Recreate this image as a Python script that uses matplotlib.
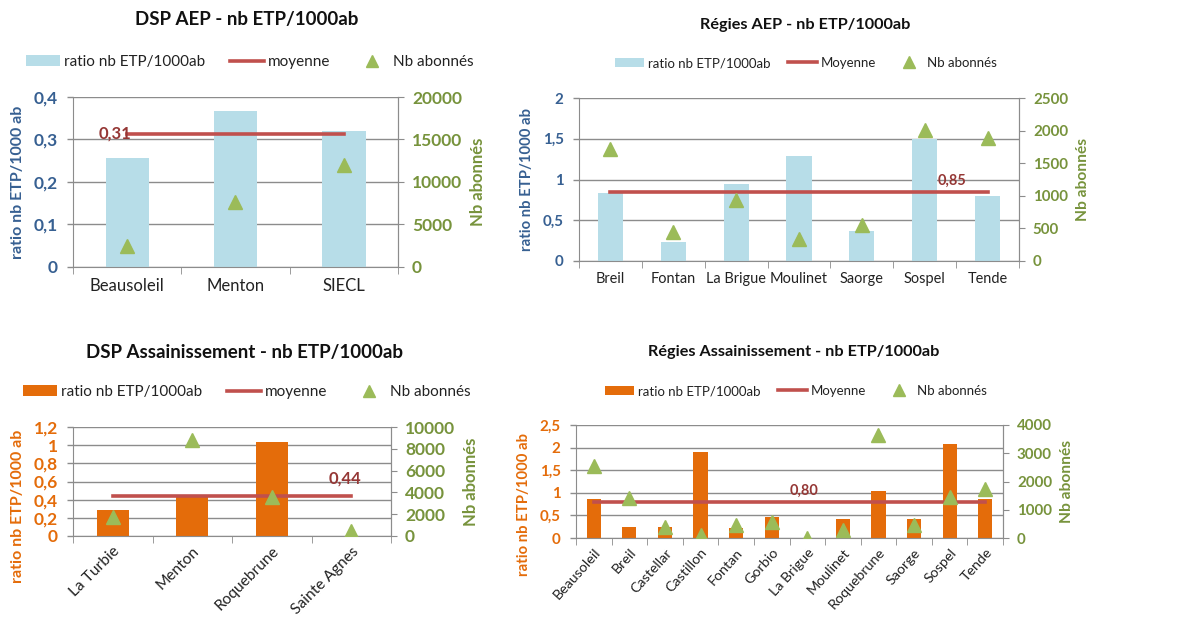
import matplotlib
matplotlib.use("Agg")
import matplotlib.pyplot as plt
from matplotlib.lines import Line2D
from matplotlib.patches import Patch
from matplotlib.ticker import FuncFormatter, MultipleLocator

plt.rcParams["font.family"] = ["Lato", "DejaVu Sans"]

# --- data -------------------------------------------------------------
dsp_aep_communes = ["Beausoleil", "Menton", "SIECL"]
dsp_aep_ratio = [0.257, 0.367, 0.32]
dsp_aep_abonnes = [2500, 7700, 12000]
dsp_aep_mean = 0.313

reg_aep_communes = ["Breil", "Fontan", "La Brigue", "Moulinet", "Saorge", "Sospel", "Tende"]
reg_aep_ratio = [0.84, 0.23, 0.94, 1.29, 0.37, 1.50, 0.80]
reg_aep_abonnes = [1720, 440, 930, 330, 550, 2010, 1880]
reg_aep_mean = 0.85

dsp_ass_communes = ["La Turbie", "Menton", "Roquebrune", "Sainte Agnes"]
dsp_ass_ratio = [0.29, 0.44, 1.04, 0.0]
dsp_ass_abonnes = [1700, 8800, 3600, 500]
dsp_ass_mean = 0.44

reg_ass_communes = ["Beausoleil", "Breil", "Castellar", "Castillon", "Fontan", "Gorbio",
                    "La Brigue", "Moulinet", "Roquebrune", "Saorge", "Sospel", "Tende"]
reg_ass_ratio = [0.86, 0.25, 0.25, 1.90, 0.23, 0.47, 0.0, 0.43, 1.04, 0.43, 2.08, 0.86]
reg_ass_abonnes = [2550, 1400, 400, 100, 450, 580, 0, 300, 3650, 450, 1450, 1750]
reg_ass_mean = 0.80

BLUE_BAR = "#B7DDE8"
ORANGE_BAR = "#E46C0A"
RED_LINE = "#C0504D"
GREEN = "#9BBB59"
GREEN_TXT = "#77933C"
BLUE_TXT = "#376092"
GRID = "#8C8C8C"

W, H = 1182, 619


def _comma(v, _):
    return f"{v:g}".replace(".", ",")


def _panel(rect, title, title_xy, legend_xy, communes, ratio, abonnes, mean,
           mean_label, bar_color, left_color, ylim, ystep, rlim, rstep,
           mean_word, rotate, scale, ylabel_y):
    left, bottom, right, top = rect
    ax = fig.add_axes([left / W, 1 - bottom / H, (right - left) / W, (bottom - top) / H])
    x = list(range(len(communes)))
    ax.bar(x, ratio, width=0.4, color=bar_color, zorder=2)
    ax.plot([x[0], x[-1]], [mean, mean], color=RED_LINE, linewidth=2.6, zorder=4)
    ax.set_xlim(-0.5, len(communes) - 0.5)
    ax.set_ylim(*ylim)
    ax.yaxis.set_major_locator(MultipleLocator(ystep))
    ax.yaxis.set_major_formatter(FuncFormatter(_comma))
    ax.grid(axis="y", color=GRID, linewidth=1.0, zorder=0)
    ax.set_axisbelow(True)
    ax.spines["top"].set_visible(False)
    for side in ("left", "right", "bottom"):
        ax.spines[side].set_color(GRID)
    ax.tick_params(axis="y", colors=left_color, labelsize=12.5 * scale, length=4, width=1, pad=7)
    for lbl in ax.get_yticklabels():
        lbl.set_fontweight("bold")
    ax.tick_params(axis="y", color=GRID)
    ax.set_xticks(x)
    ax.set_xticks([i - 0.5 for i in range(len(communes) + 1)], minor=True)
    ax.tick_params(axis="x", which="major", length=0, pad=6 if rotate else 8)
    ax.tick_params(axis="x", which="minor", length=5, color=GRID)
    if rotate:
        ax.set_xticklabels(communes, rotation=rotate, ha="right", rotation_mode="anchor",
                           fontsize=11.2 * max(scale, 0.92), color="#222222")
    else:
        ax.set_xticklabels(communes, fontsize=12 * scale, color="#222222")
    ax.set_ylabel("ratio nb ETP/1000 ab", color=left_color, fontweight="bold",
                  fontsize=11.5 * max(scale, 0.93), labelpad=6)
    ax.yaxis.label.set_y(ylabel_y)

    ax2 = ax.twinx()
    ax2.plot(x, abonnes, linestyle="none", marker="^", markersize=10, color=GREEN, zorder=5)
    ax2.set_ylim(*rlim)
    ax2.yaxis.set_major_locator(MultipleLocator(rstep))
    ax2.tick_params(axis="y", colors=GREEN_TXT, labelsize=12.5 * scale, length=4, pad=6)
    ax2.tick_params(axis="y", color=GRID)
    for lbl in ax2.get_yticklabels():
        lbl.set_fontweight("bold")
    for side in ("top", "left", "bottom"):
        ax2.spines[side].set_visible(False)
    ax2.spines["right"].set_color(GRID)
    ax2.set_ylabel("Nb abonnés", color=GREEN_TXT, fontweight="bold",
                   fontsize=12 * max(scale, 0.93), labelpad=6)
    ax2.set_zorder(ax.get_zorder() + 1)

    lx, ha, dy = mean_label
    ax.annotate(f"{mean:.2f}".replace(".", ","), xy=(lx, mean),
                xytext=(0 if ha == "center" else 3, dy), textcoords="offset points",
                ha=ha, va="bottom" if dy > 0 else "center",
                color="#953735", fontweight="bold", fontsize=12 * scale, zorder=6)

    fig.text(title_xy[0] / W, 1 - title_xy[1] / H, title, ha="center", va="center",
             fontsize=13.5 * scale, fontweight="bold", color="#111111")
    handles = [
        Patch(facecolor=bar_color, edgecolor="none"),
        Line2D([], [], color=RED_LINE, linewidth=2.6),
        Line2D([], [], linestyle="none", marker="^", markersize=9, color=GREEN),
    ]
    fig.legend(handles, ["ratio nb ETP/1000ab", mean_word, "Nb abonnés"], ncol=3,
               loc="center", bbox_to_anchor=(legend_xy[0] / W, 1 - legend_xy[1] / H),
               frameon=False, fontsize=11 * scale, handlelength=2.2, handletextpad=0.3,
               columnspacing=1.6 if scale == 1.0 else 1.3, labelcolor="#222222")
    return ax, ax2


fig = plt.figure(figsize=(W / 100, H / 100), dpi=100)

_panel((73, 267, 398, 97), "DSP AEP - nb ETP/1000ab", (247, 20), (250, 62),
       dsp_aep_communes, dsp_aep_ratio, dsp_aep_abonnes, dsp_aep_mean,
       (0, "right", 0), BLUE_BAR, BLUE_TXT, (0, 0.4), 0.1,
       (0, 20000), 5000, "moyenne", 0, 1.0, 0.5)

_panel((579, 261, 1019, 98), "Régies AEP - nb ETP/1000ab", (805, 25), (806, 63),
       reg_aep_communes, reg_aep_ratio, reg_aep_abonnes, reg_aep_mean,
       (5.43, "center", 3), BLUE_BAR, BLUE_TXT, (0, 2), 0.5,
       (0, 2500), 500, "Moyenne", 0, 0.87, 0.5)

_panel((73, 536, 391, 427), "DSP Assainissement - nb ETP/1000ab", (244, 352), (247, 392),
       dsp_ass_communes, dsp_ass_ratio, dsp_ass_abonnes, dsp_ass_mean,
       (2.92, "center", 7), ORANGE_BAR, ORANGE_BAR, (0, 1.2), 0.2,
       (0, 10000), 2000, "moyenne", 45, 1.0, 0.27)

_panel((576, 538, 1003, 425), "Régies Assainissement - nb ETP/1000ab", (794, 352), (796, 391),
       reg_ass_communes, reg_ass_ratio, reg_ass_abonnes, reg_ass_mean,
       (5.9, "center", 3), ORANGE_BAR, ORANGE_BAR, (0, 2.5), 0.5,
       (0, 4000), 1000, "Moyenne", 48, 0.87, 0.30)

fig.savefig("out.png", dpi=100)
